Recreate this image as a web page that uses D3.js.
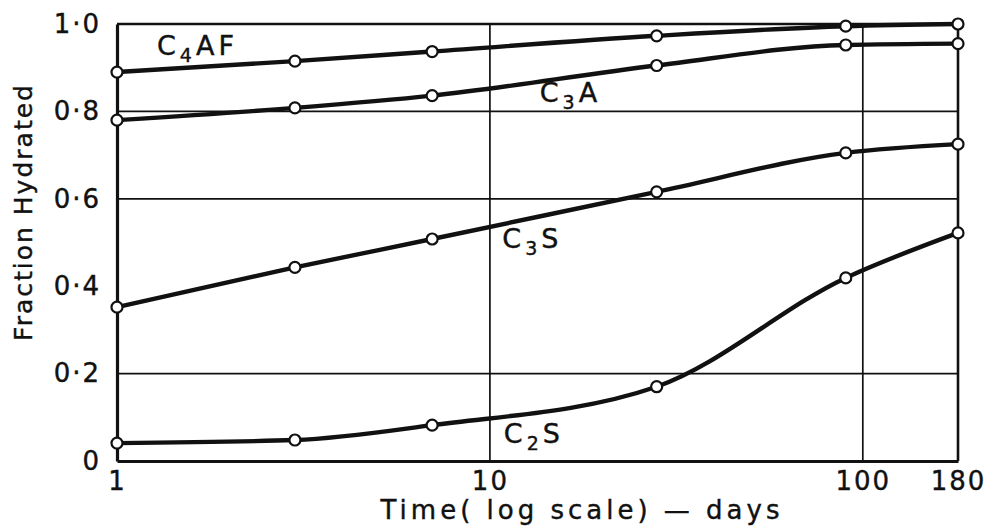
<!DOCTYPE html>
<html lang="en">
<head>
    <meta charset="UTF-8">
    <title>Fraction Hydrated</title>
    <script src="https://cdn.jsdelivr.net/npm/d3@7"></script>
    <style>
        body { margin: 0; background: #fff; }
        svg text { font-family: "DejaVu Sans", sans-serif; fill: #111; stroke: #111; stroke-width: 0.4px; }
    </style>
</head>
<body>
<svg width="1003" height="531"></svg>
<script>
    // time in days (log scale) and fraction hydrated per compound
    var days = [1, 3, 7, 28, 90, 180];
    var c4af = [0.89, 0.915, 0.937, 0.973, 0.995, 1.0];
    var c3a = [0.78, 0.808, 0.836, 0.905, 0.952, 0.955];
    var c3s = [0.352, 0.443, 0.508, 0.616, 0.705, 0.725];
    var c2s = [0.041, 0.048, 0.082, 0.17, 0.419, 0.522];

    var xTicks = [1, 10, 100, 180];
    var xTickLabels = ["1", "10", "100", "180"];
    var yTicks = [0, 0.2, 0.4, 0.6, 0.8, 1.0];
    var yTickLabels = ["0", "0·2", "0·4", "0·6", "0·8", "1·0"];
    var yGrid = [0.2, 0.6, 0.8];
    var xGrid = [10, 100];

    var series = [
        {name: "C", sub: "4", rest: "AF", values: c4af, at: 1.28, val: 0.929},
        {name: "C", sub: "3", rest: "A", values: c3a, at: 13.6, val: 0.8215},
        {name: "C", sub: "3", rest: "S", values: c3s, at: 10.8, val: 0.487},
        {name: "C", sub: "2", rest: "S", values: c2s, at: 10.9, val: 0.041}
    ];

    var svg = d3.select("svg");
    var margin = {left: 117, top: 24, right: 45, bottom: 70};
    var W = 1003, H = 531;

    var x = d3.scaleLog().domain([1, 180]).range([margin.left, W - margin.right]);
    var y = d3.scaleLinear().domain([0, 1]).range([H - margin.bottom, margin.top]);

    // grid lines
    svg.selectAll("line.hgrid").data(yGrid).enter().append("line")
        .attr("class", "hgrid")
        .attr("x1", x(1)).attr("x2", x(180))
        .attr("y1", function (d) { return y(d); })
        .attr("y2", function (d) { return y(d); })
        .attr("stroke", "#111").attr("stroke-width", 1.7);
    svg.selectAll("line.vgrid").data(xGrid).enter().append("line")
        .attr("class", "vgrid")
        .attr("x1", function (d) { return x(d); })
        .attr("x2", function (d) { return x(d); })
        .attr("y1", y(0)).attr("y2", y(1))
        .attr("stroke", "#111").attr("stroke-width", 1.7);

    // frame
    svg.append("line").attr("x1", x(1)).attr("x2", x(180)).attr("y1", y(1)).attr("y2", y(1))
        .attr("stroke", "#111").attr("stroke-width", 2.4);
    svg.append("line").attr("x1", x(180)).attr("x2", x(180)).attr("y1", y(1)).attr("y2", y(0))
        .attr("stroke", "#111").attr("stroke-width", 2.6);

    // axes
    var xAxis = d3.axisBottom(x).tickValues(xTicks)
        .tickFormat(function (d, i) { return xTickLabels[i]; })
        .tickSize(0).tickPadding(11);
    var gx = svg.append("g").attr("transform", "translate(0," + y(0) + ")").call(xAxis);
    gx.select(".domain").attr("stroke", "#111").attr("stroke-width", 3);
    gx.selectAll("text").attr("font-size", 26).attr("fill", "#111")
        .attr("letter-spacing", 2)
        .style("font-family", "DejaVu Sans");

    var yAxis = d3.axisLeft(y).tickValues(yTicks)
        .tickFormat(function (d, i) { return yTickLabels[i]; })
        .tickSize(0).tickPadding(16);
    var gy = svg.append("g").attr("transform", "translate(" + x(1) + ",0)").call(yAxis);
    gy.select(".domain").attr("stroke", "#111").attr("stroke-width", 3.2);
    gy.selectAll("text").attr("font-size", 26).attr("fill", "#111")
        .attr("letter-spacing", 2)
        .style("font-family", "DejaVu Sans");

    // axis titles
    svg.append("text")
        .attr("x", 582).attr("y", 519)
        .attr("text-anchor", "middle")
        .attr("font-size", 26)
        .attr("letter-spacing", 4)
        .text("Time( log scale) — days");
    svg.append("text")
        .attr("transform", "translate(32,212) rotate(-90)")
        .attr("text-anchor", "middle")
        .attr("font-size", 25)
        .attr("letter-spacing", 2)
        .text("Fraction Hydrated");

    // curves
    var line = d3.line()
        .x(function (d) { return x(d[0]); })
        .y(function (d) { return y(d[1]); })
        .curve(d3.curveMonotoneX);

    series.forEach(function (s) {
        var pts = days.map(function (d, i) { return [d, s.values[i]]; });
        svg.append("path")
            .datum(pts)
            .attr("d", line)
            .attr("fill", "none")
            .attr("stroke", "#111")
            .attr("stroke-width", 4.4);
        svg.append("g").selectAll("circle").data(pts).enter().append("circle")
            .attr("cx", function (d) { return x(d[0]); })
            .attr("cy", function (d) { return y(d[1]); })
            .attr("r", 5.5)
            .attr("fill", "#fff")
            .attr("stroke", "#111")
            .attr("stroke-width", 2.2);

        var t = svg.append("text")
            .attr("x", x(s.at)).attr("y", y(s.val))
            .attr("font-size", 27)
            .attr("letter-spacing", 4);
        t.append("tspan").text(s.name);
        t.append("tspan").attr("dy", 7).attr("font-size", 19).text(s.sub);
        t.append("tspan").attr("dy", -7).text(s.rest);
    });
</script>
</body>
</html>
